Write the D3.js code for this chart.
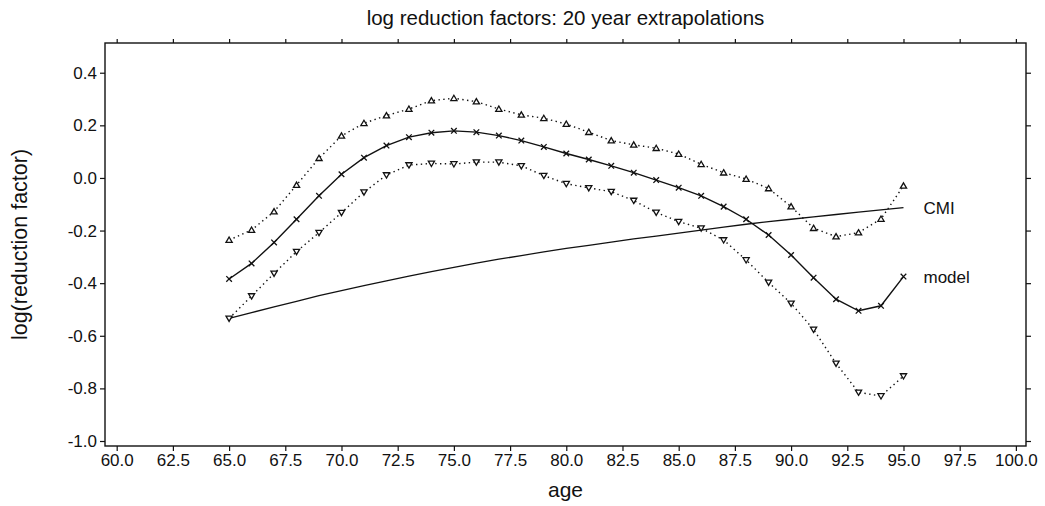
<!DOCTYPE html>
<html>
<head>
<meta charset="utf-8">
<script src="https://cdn.jsdelivr.net/npm/d3@7"></script>
<style>
  body { margin: 0; background: #fff; }
  text { font-family: "Liberation Sans", Arial, sans-serif; fill: #111; }
</style>
</head>
<body>
<svg id="chart" width="1045" height="506"></svg>
<script>
// ages 65..95
const ages = d3.range(65, 96);

const modelValues = [
  -0.384, -0.325, -0.245, -0.157, -0.068, 0.014, 0.077, 0.123, 0.155, 0.172,
  0.179, 0.174, 0.161, 0.142, 0.118, 0.093, 0.070, 0.046, 0.020, -0.008,
  -0.037, -0.068, -0.109, -0.157, -0.217, -0.293, -0.379, -0.461, -0.505, -0.486,
  -0.375
];

const upperValues = [
  -0.236, -0.198, -0.128, -0.027, 0.075, 0.160, 0.208, 0.237, 0.262, 0.294,
  0.303, 0.290, 0.262, 0.240, 0.227, 0.205, 0.174, 0.142, 0.126, 0.113,
  0.091, 0.052, 0.020, -0.004, -0.040, -0.109, -0.191, -0.223, -0.208, -0.156,
  -0.030
];

const lowerValues = [
  -0.534, -0.449, -0.363, -0.280, -0.208, -0.132, -0.054, 0.011, 0.049, 0.055,
  0.053, 0.060, 0.060, 0.046, 0.009, -0.022, -0.038, -0.052, -0.086, -0.131,
  -0.166, -0.191, -0.236, -0.312, -0.397, -0.477, -0.576, -0.705, -0.815, -0.829,
  -0.753
];

const cmiValues = [
  -0.534, -0.512, -0.490, -0.469, -0.447, -0.428, -0.409, -0.391, -0.373, -0.356,
  -0.340, -0.324, -0.309, -0.295, -0.281, -0.268, -0.256, -0.244, -0.232, -0.221,
  -0.210, -0.198, -0.187, -0.176, -0.166, -0.157, -0.148, -0.139, -0.130, -0.121,
  -0.113
];

const xTicks = d3.range(60, 100.01, 2.5);
const yTicks = [-1.0, -0.8, -0.6, -0.4, -0.2, 0.0, 0.2, 0.4];

const svg = d3.select('#chart');
const margin = {top: 43, right: 19, bottom: 60, left: 105};
const width = 1045 - margin.left - margin.right;
const height = 506 - margin.top - margin.bottom;

const x = d3.scaleLinear().domain([59.48, 100.45]).range([0, width]);
const y = d3.scaleLinear().domain([-1.019, 0.513]).range([height, 0]);

// plain hyphen for negatives, as in the original
const fmt = d => d3.format('.1f')(d).replace('\u2212', '-');

const g = svg.append('g')
  .attr('transform', `translate(${margin.left}, ${margin.top})`);

// axes: labels only on bottom and left, plain ticks on top and right
const styleAxis = sel => {
  sel.select('.domain').remove();
  sel.selectAll('line').attr('stroke', '#111').attr('stroke-width', 1.2);
  sel.selectAll('text').style('font-size', '17px').attr('fill', '#111');
};

g.append('g')
  .attr('transform', `translate(0, ${height})`)
  .call(d3.axisBottom(x).tickValues(xTicks).tickFormat(fmt)
    .tickSize(5).tickPadding(3))
  .call(styleAxis);

g.append('g')
  .call(d3.axisTop(x).tickValues(xTicks).tickFormat('').tickSize(4))
  .call(styleAxis);

g.append('g')
  .call(d3.axisLeft(y).tickValues(yTicks).tickFormat(fmt)
    .tickSize(5).tickPadding(3))
  .call(styleAxis);

g.append('g')
  .attr('transform', `translate(${width}, 0)`)
  .call(d3.axisRight(y).tickValues(yTicks).tickFormat('').tickSize(5))
  .call(styleAxis);

// frame
g.append('rect')
  .attr('width', width)
  .attr('height', height)
  .attr('fill', 'none')
  .attr('stroke', '#111')
  .attr('stroke-width', 1.4);

const line = vals => d3.line()
  .x((d, i) => x(ages[i]))
  .y(d => y(d))(vals);

// CMI line
g.append('path')
  .attr('d', line(cmiValues))
  .attr('fill', 'none')
  .attr('stroke', '#111')
  .attr('stroke-width', 1.3);

// bounds (dotted)
[upperValues, lowerValues].forEach(vals => {
  g.append('path')
    .attr('d', line(vals))
    .attr('fill', 'none')
    .attr('stroke', '#111')
    .attr('stroke-width', 1.4)
    .attr('stroke-dasharray', '1.4,3.4');
});

// model (solid)
g.append('path')
  .attr('d', line(modelValues))
  .attr('fill', 'none')
  .attr('stroke', '#111')
  .attr('stroke-width', 1.4);

// markers
const triUp = 'M0,-3 L3.1,2.3 L-3.1,2.3 Z';
const triDown = 'M0,3 L3.1,-2.3 L-3.1,-2.3 Z';
const cross = 'M-2.8,-2.8 L2.8,2.8 M-2.8,2.8 L2.8,-2.8';

const drawMarkers = (vals, shape, fill) => {
  g.append('g')
    .selectAll('path')
    .data(vals)
    .join('path')
    .attr('transform', (d, i) => `translate(${x(ages[i])}, ${y(d)})`)
    .attr('d', shape)
    .attr('fill', fill)
    .attr('stroke', '#111')
    .attr('stroke-width', 1.3);
};

drawMarkers(upperValues, triUp, '#fff');
drawMarkers(lowerValues, triDown, '#fff');
drawMarkers(modelValues, cross, 'none');

// line labels
const last = ages.length - 1;
g.append('text')
  .attr('x', x(ages[last]) + 20)
  .attr('y', y(cmiValues[last]))
  .attr('dy', '0.35em')
  .style('font-size', '17px')
  .text('CMI');

g.append('text')
  .attr('x', x(ages[last]) + 20)
  .attr('y', y(modelValues[last]))
  .attr('dy', '0.35em')
  .style('font-size', '17px')
  .text('model');

// titles
svg.append('text')
  .attr('x', margin.left + width / 2)
  .attr('y', 25)
  .attr('text-anchor', 'middle')
  .style('font-size', '20.5px')
  .text('log reduction factors: 20 year extrapolations');

svg.append('text')
  .attr('x', margin.left + width / 2)
  .attr('y', 497)
  .attr('text-anchor', 'middle')
  .style('font-size', '21px')
  .text('age');

svg.append('text')
  .attr('transform', `translate(27, ${margin.top + height / 2}) rotate(-90)`)
  .attr('text-anchor', 'middle')
  .style('font-size', '21.5px')
  .text('log(reduction factor)');
</script>
</body>
</html>
